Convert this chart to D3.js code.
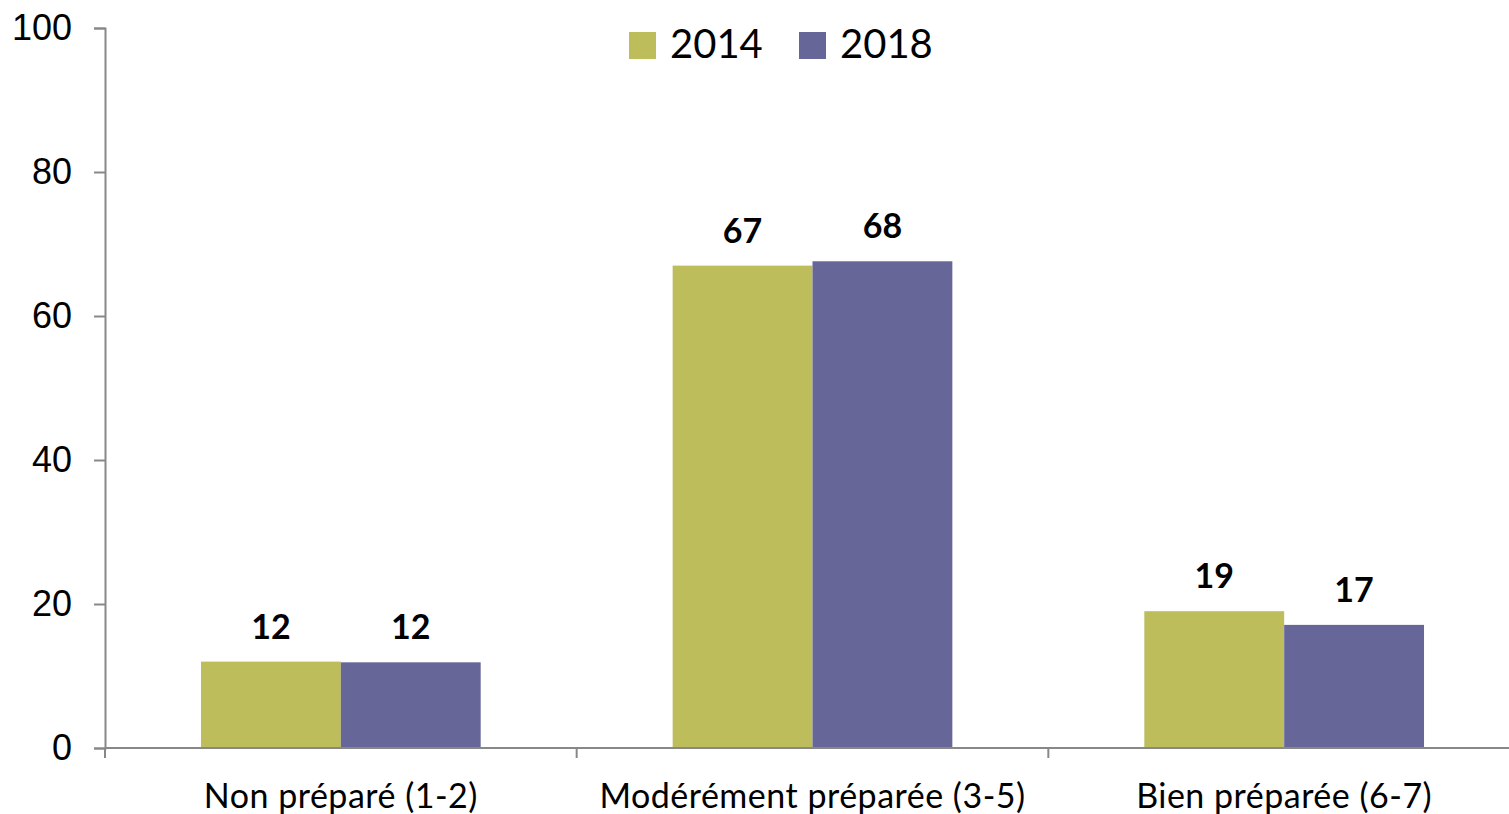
<!DOCTYPE html>
<html>
<head>
<meta charset="utf-8">
<script src="https://cdn.jsdelivr.net/npm/d3@7"></script>
<style>
  html, body { margin: 0; padding: 0; background: #fff; overflow: hidden; }
  svg { display: block; }
</style>
</head>
<body>
<svg id="chart"></svg>
<script>
var categories = ["Non préparé (1-2)", "Modérément préparée (3-5)", "Bien préparée (6-7)"];
var seriesNames = ["2014", "2018"];
var values2014 = [12.0, 67.0, 19.0];
var values2018 = [11.9, 67.6, 17.1];
var yTicks = [0, 20, 40, 60, 80, 100];
var colors = ["#bdbd5c", "#666699"];

var width = 1509, height = 814;
var svg = d3.select("#chart").attr("width", width).attr("height", height);

var x = d3.scaleBand()
  .domain(categories)
  .range([105, 1520])
  .paddingInner(0.407)
  .paddingOuter(0.2035);

var xs = d3.scaleBand()
  .domain(seriesNames)
  .range([0, x.bandwidth()])
  .padding(0);

var y = d3.scaleLinear().domain([0, 100]).range([748, 28]);

var rows = categories.map(function(c, i) {
  return { cat: c, vals: [values2014[i], values2018[i]] };
});

// bars
var groups = svg.selectAll("g.cat")
  .data(rows)
  .enter().append("g")
  .attr("class", "cat")
  .attr("transform", function(d) { return "translate(" + x(d.cat) + ",0)"; });

groups.selectAll("rect")
  .data(function(d) { return d.vals.map(function(v, j) { return { s: seriesNames[j], v: v, j: j }; }); })
  .enter().append("rect")
  .attr("x", function(d) { return xs(d.s); })
  .attr("y", function(d) { return y(d.v); })
  .attr("width", xs.bandwidth())
  .attr("height", function(d) { return y(0) - y(d.v); })
  .attr("fill", function(d) { return colors[d.j]; });

groups.selectAll("text.val")
  .data(function(d) { return d.vals.map(function(v, j) { return { s: seriesNames[j], v: v }; }); })
  .enter().append("text")
  .attr("class", "val")
  .attr("x", function(d) { return xs(d.s) + xs.bandwidth() / 2; })
  .attr("y", function(d) { return y(d.v) - 23; })
  .attr("text-anchor", "middle")
  .style("font-family", "Lato, 'Open Sans', sans-serif")
  .style("font-weight", "bold")
  .style("font-size", "34px")
  .attr("fill", "#000")
  .text(function(d) { return d3.format(".0f")(d.v); });

// y axis
var yAxis = svg.append("g")
  .attr("transform", "translate(105,0)")
  .call(d3.axisLeft(y).tickValues(yTicks).tickSize(11).tickPadding(22));
yAxis.selectAll("line, path").attr("stroke", "#888").attr("stroke-width", 2);
yAxis.selectAll("text")
  .style("font-family", "'Liberation Sans', Arial, sans-serif")
  .style("font-size", "36px")
  .attr("fill", "#000");

// x axis with ticks at category boundaries
var xAxisG = svg.append("g").attr("transform", "translate(0,748)");
xAxisG.append("line")
  .attr("x1", 105).attr("x2", 1520)
  .attr("stroke", "#888").attr("stroke-width", 2);
var bounds = categories.map(function(c) { return x(c) - x.step() * x.paddingInner() / 2; });
bounds.push(x(categories[categories.length - 1]) + x.bandwidth() + x.step() * x.paddingInner() / 2);
xAxisG.selectAll("line.tick")
  .data(bounds)
  .enter().append("line")
  .attr("class", "tick")
  .attr("x1", function(d) { return d; }).attr("x2", function(d) { return d; })
  .attr("y1", 0).attr("y2", 10)
  .attr("stroke", "#888").attr("stroke-width", 2);
xAxisG.selectAll("text")
  .data(categories)
  .enter().append("text")
  .attr("x", function(d) { return x(d) + x.bandwidth() / 2; })
  .attr("y", 60)
  .attr("text-anchor", "middle")
  .style("font-family", "Lato, 'Open Sans', sans-serif")
  .style("font-size", "34px")
  .style("letter-spacing", "0.5px")
  .attr("fill", "#000")
  .text(function(d) { return d; });

// legend
var legendX = [629, 799];
var legend = svg.selectAll("g.legend")
  .data(seriesNames)
  .enter().append("g")
  .attr("class", "legend")
  .attr("transform", function(d, i) { return "translate(" + legendX[i] + ",32)"; });
legend.append("rect")
  .attr("width", 27).attr("height", 27)
  .attr("fill", function(d, i) { return colors[i]; });
legend.append("text")
  .attr("x", 41).attr("y", 26)
  .style("font-family", "Lato, 'Open Sans', sans-serif")
  .style("font-size", "40px")
  .attr("fill", "#000")
  .text(function(d) { return d; });
</script>
</body>
</html>
